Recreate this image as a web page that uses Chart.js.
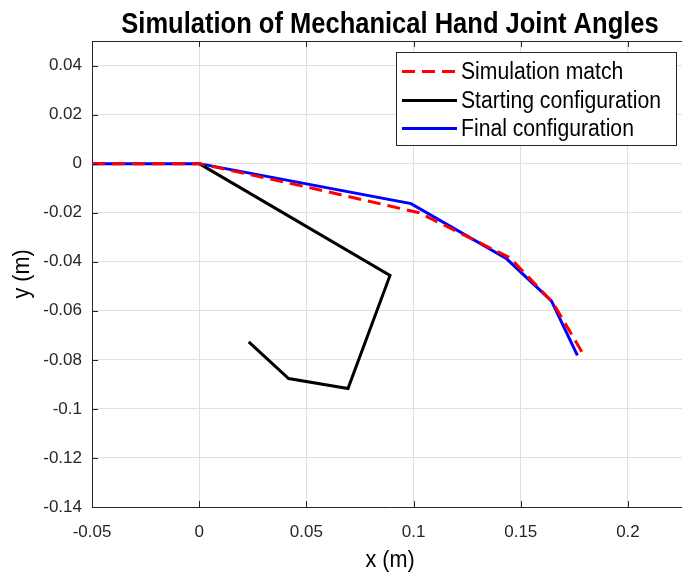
<!DOCTYPE html>
<html>
<head>
<meta charset="utf-8">
<script src="https://cdn.jsdelivr.net/npm/chart.js@4/dist/chart.umd.min.js"></script>
<style>
html, body { margin: 0; padding: 0; overflow: hidden; background: #fff; }
#wrap { width: 700px; height: 574px; }
</style>
</head>
<body>
<div id="wrap"><canvas id="myChart" width="700" height="574"></canvas></div>
<script>
// datos
const seriesNames = ['Simulation match', 'Starting configuration', 'Final configuration'];
const simX = [-0.05, 0, 0.050, 0.1025, 0.145, 0.165, 0.1786];
const simY = [0, 0, -0.0095, -0.0200, -0.0384, -0.0567, -0.0769];
const startX = [0, 0.0890, 0.0694, 0.0417, 0.0231];
const startY = [0, -0.0456, -0.0917, -0.0876, -0.0727];
const finalX = [-0.05, 0, 0.0988, 0.1434, 0.1643, 0.1764];
const finalY = [0, 0, -0.0163, -0.0388, -0.0560, -0.0782];
const xTicks = [-0.05, 0, 0.05, 0.1, 0.15, 0.2];
const yTicks = [0.04, 0.02, 0, -0.02, -0.04, -0.06, -0.08, -0.1, -0.12, -0.14];

const ink = '#262626';
const pts = (xs, ys) => xs.map((x, i) => ({ x: x, y: ys[i] }));
const fmt = v => String(Number(v.toFixed(4)));

// texto comprimido en horizontal como en la imagen
function texto(ctx, txt, x, y, font, align, sx, rot) {
    ctx.save();
    ctx.translate(x, y);
    if (rot) ctx.rotate(rot);
    ctx.scale(sx, 1);
    ctx.font = font;
    ctx.fillStyle = '#000';
    ctx.textAlign = align;
    ctx.textBaseline = 'middle';
    ctx.fillText(txt, 0, 0);
    ctx.restore();
}

const extras = {
    id: 'extras',
    afterDraw(chart) {
        const c = chart.ctx, a = chart.chartArea;
        const sx = chart.scales.x, sy = chart.scales.y;
        c.save();
        c.strokeStyle = ink;
        c.lineWidth = 1;
        // marcas hacia dentro
        c.beginPath();
        xTicks.forEach(v => {
            const p = Math.round(sx.getPixelForValue(v)) + 0.5;
            c.moveTo(p, a.bottom); c.lineTo(p, a.bottom - 6);
            c.moveTo(p, a.top); c.lineTo(p, a.top + 6);
        });
        yTicks.forEach(v => {
            const p = Math.round(sy.getPixelForValue(v)) + 0.5;
            c.moveTo(a.left, p); c.lineTo(a.left + 6, p);
        });
        // borde de arriba
        c.moveTo(a.left, a.top + 0.5); c.lineTo(a.right, a.top + 0.5);
        c.stroke();

        // leyenda
        const L = 396.5, T = 52.5, R = 676.5, B = 145.5;
        c.fillStyle = '#fff';
        c.fillRect(L, T, R - L, B - T);
        c.strokeStyle = ink;
        c.strokeRect(L, T, R - L, B - T);
        const rows = [71.5, 100.5, 128.5];
        chart.data.datasets.forEach((ds, i) => {
            c.save();
            c.strokeStyle = ds.borderColor;
            c.lineWidth = ds.borderWidth;
            c.setLineDash(ds.borderDash || []);
            c.beginPath();
            c.moveTo(402, rows[i]); c.lineTo(457, rows[i]);
            c.stroke();
            c.restore();
            texto(c, ds.label, 461, rows[i] + 1, '23px "Liberation Sans", Arial, sans-serif', 'left', 0.92, 0);
        });
        c.restore();

        const cx = (a.left + a.right) / 2;
        texto(c, 'Simulation of Mechanical Hand Joint Angles', cx, 25, 'bold 29px "Liberation Sans", Arial, sans-serif', 'center', 0.88, 0);
        texto(c, 'x (m)', cx, 560, '24px "Liberation Sans", Arial, sans-serif', 'center', 0.9, 0);
        texto(c, 'y (m)', 22, (a.top + a.bottom) / 2, '24px "Liberation Sans", Arial, sans-serif', 'center', 0.9, -Math.PI / 2);
    }
};

const data = {
    datasets: [{
        label: seriesNames[0],
        data: pts(simX, simY),
        borderColor: '#ff0000',
        borderWidth: 3,
        borderDash: [13, 7],
    }, {
        label: seriesNames[1],
        data: pts(startX, startY),
        borderColor: '#000000',
        borderWidth: 3,
    }, {
        label: seriesNames[2],
        data: pts(finalX, finalY),
        borderColor: '#0000ff',
        borderWidth: 3,
    }]
};

const config = {
    type: 'line',
    data: data,
    options: {
        responsive: false,
        animation: false,
        layout: { padding: { top: 41, right: 12, left: 0, bottom: 0 } },
        elements: {
            point: { radius: 0 },
            line: { tension: 0, fill: false }
        },
        plugins: {
            legend: { display: false },
            tooltip: { enabled: false }
        },
        scales: {
            x: {
                type: 'linear',
                min: -0.05,
                max: 0.228,
                afterBuildTicks: s => { s.ticks = xTicks.map(v => ({ value: v })); },
                afterFit: s => { s.height = 67; },
                grid: { color: '#e0e0e0', drawTicks: false },
                border: { color: ink },
                ticks: {
                    padding: 15,
                    color: ink,
                    font: { family: '"Liberation Sans", Arial, sans-serif', size: 17 },
                    callback: v => fmt(v)
                }
            },
            y: {
                type: 'linear',
                min: -0.14,
                max: 0.05,
                afterBuildTicks: s => { s.ticks = yTicks.map(v => ({ value: v })); },
                afterFit: s => { s.width = 92; },
                grid: { color: '#e0e0e0', drawTicks: false },
                border: { color: ink },
                ticks: {
                    padding: 10,
                    color: ink,
                    font: { family: '"Liberation Sans", Arial, sans-serif', size: 17 },
                    callback: v => fmt(v)
                }
            }
        }
    },
    plugins: [extras]
};

new Chart(document.getElementById('myChart'), config);
</script>
</body>
</html>
